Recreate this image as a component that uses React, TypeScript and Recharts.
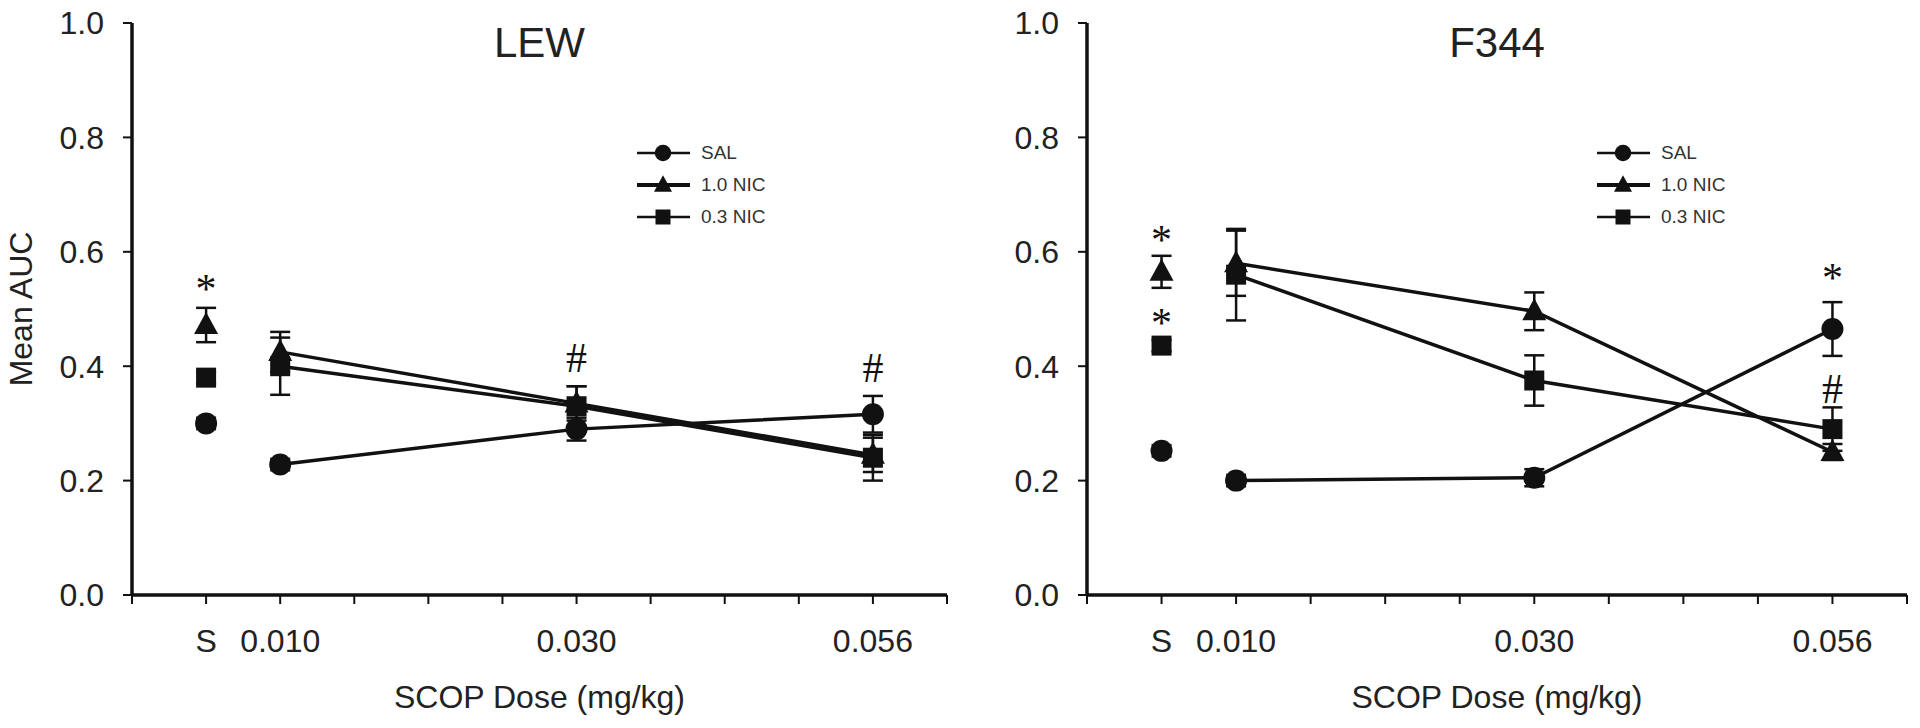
import { LineChart, Line, XAxis, YAxis, ErrorBar, Legend, Scatter, Customized } from "recharts"

// x positions on the dose axis (S = saline pre-test point, then SCOP doses)
const xTicks = [0, 1, 2, 3, 4, 5, 6, 7, 8, 9, 10, 11]
const tickLabels: Record<number, string> = { 1: "S", 2: "0.010", 6: "0.030", 10: "0.056" }
const salineX = 1
const doseX = [2, 6, 10]
const yTicks = [0, 0.2, 0.4, 0.6, 0.8, 1.0]

const seriesNames = ["SAL", "1.0 NIC", "0.3 NIC"]
const seriesKinds = ["circle", "triangle", "square"] as const
const legendStroke = [2.5, 4, 2.5]

// LEW
const lewSalineMean = [0.3, 0.472, 0.38]
const lewSalineErr = [0.01, 0.03, 0.01]
const lewSal = [0.228, 0.29, 0.316]
const lewSalErr = [0.01, 0.02, 0.032]
const lewNic10 = [0.425, 0.335, 0.245]
const lewNic10Err = [0.035, 0.03, 0.03]
const lewNic03 = [0.4, 0.33, 0.24]
const lewNic03Err = [0.05, 0.035, 0.04]
const lewMarks = [
  { x: 1, y: 0.545, text: "*" },
  { x: 6, y: 0.416, text: "#" },
  { x: 10, y: 0.399, text: "#" },
]

// F344
const f344SalineMean = [0.252, 0.565, 0.436]
const f344SalineErr = [0.01, 0.028, 0.01]
const f344Sal = [0.2, 0.205, 0.465]
const f344SalErr = [0.01, 0.015, 0.047]
const f344Nic10 = [0.58, 0.496, 0.25]
const f344Nic10Err = [0.057, 0.033, 0.014]
const f344Nic03 = [0.56, 0.375, 0.29]
const f344Nic03Err = [0.08, 0.044, 0.038]
const f344Marks = [
  { x: 1, y: 0.631, text: "*" },
  { x: 1, y: 0.486, text: "*" },
  { x: 10, y: 0.565, text: "*" },
  { x: 10, y: 0.362, text: "#" },
]

const INK = "#111"
const FONT = "'Liberation Sans', Arial, sans-serif"

type Kind = (typeof seriesKinds)[number]

function Marker({ cx, cy, kind, s = 1 }: { cx?: number; cy?: number; kind: Kind; s?: number }) {
  if (cx == null || cy == null) return null
  if (kind === "circle") return <circle cx={cx} cy={cy} r={11 * s} fill={INK} />
  if (kind === "triangle")
    return (
      <polygon
        points={`${cx},${cy - 13 * s} ${cx + 12 * s},${cy + 9 * s} ${cx - 12 * s},${cy + 9 * s}`}
        fill={INK}
      />
    )
  return <rect x={cx - 10 * s} y={cy - 10 * s} width={20 * s} height={20 * s} fill={INK} />
}

function LegendBox() {
  return (
    <div style={{ fontFamily: FONT, fontSize: 19, color: "#333" }}>
      {seriesNames.map((name, i) => (
        <div key={name} style={{ display: "flex", alignItems: "center", height: 32 }}>
          <svg width={54} height={24}>
            <line x1={0} y1={12} x2={53} y2={12} stroke={INK} strokeWidth={legendStroke[i]} />
            <Marker cx={26} cy={12} kind={seriesKinds[i]} s={0.75} />
          </svg>
          <span style={{ marginLeft: 10 }}>{name}</span>
        </div>
      ))}
    </div>
  )
}

interface PanelProps {
  title: string
  salineMean: number[]
  salineErr: number[]
  series: number[][]
  errors: number[][]
  marks: { x: number; y: number; text: string }[]
  yAxisWidth: number
  showYLabel?: boolean
}

function Panel({ title, salineMean, salineErr, series, errors, marks, yAxisWidth, showYLabel }: PanelProps) {
  const plotLeft = yAxisWidth
  const plotRight = 960 - 13
  return (
    <LineChart
      width={960}
      height={728}
      margin={{ top: 23, right: 13, bottom: 0, left: 0 }}
      style={{ fontFamily: FONT }}
    >
      <XAxis
        type="number"
        dataKey="x"
        domain={[0, 11]}
        ticks={xTicks}
        interval={0}
        tickFormatter={(v: number) => tickLabels[v] ?? ""}
        height={133}
        tickSize={9}
        tickMargin={25}
        axisLine={{ stroke: INK, strokeWidth: 3.5 }}
        tickLine={{ stroke: INK, strokeWidth: 2 }}
        tick={{ fill: "#222", fontSize: 32, fontFamily: FONT }}
        label={{
          value: "SCOP Dose (mg/kg)",
          position: "insideBottom",
          offset: 20,
          fill: "#222",
          fontSize: 32,
          fontFamily: FONT,
        }}
      />
      <YAxis
        type="number"
        dataKey="y"
        domain={[0, 1]}
        ticks={yTicks}
        interval={0}
        width={yAxisWidth}
        tickFormatter={(v: number) => v.toFixed(1)}
        tickSize={9}
        tickMargin={19}
        axisLine={{ stroke: INK, strokeWidth: 3.5 }}
        tickLine={{ stroke: INK, strokeWidth: 2 }}
        tick={{ fill: "#222", fontSize: 32, fontFamily: FONT }}
        label={
          showYLabel
            ? {
                value: "Mean AUC",
                angle: -90,
                position: "insideLeft",
                offset: 21,
                fill: "#222",
                fontSize: 32,
                fontFamily: FONT,
                style: { textAnchor: "middle" },
              }
            : undefined
        }
      />
      <Customized
        component={() => (
          <text
            x={(plotLeft + plotRight) / 2}
            y={57}
            textAnchor="middle"
            fontSize={42}
            fontFamily={FONT}
            fill="#222"
          >
            {title}
          </text>
        )}
      />
      {seriesKinds.map((kind, i) => (
        <Line
          key={`dose-${kind}`}
          data={doseX.map((x, j) => ({ x, y: series[i][j], err: errors[i][j] }))}
          dataKey="y"
          stroke={INK}
          strokeWidth={3.5}
          isAnimationActive={false}
          activeDot={false}
          dot={(p: any) => <Marker key={`d-${kind}-${p.index}`} cx={p.cx} cy={p.cy} kind={kind} />}
        >
          <ErrorBar dataKey="err" direction="y" width={10} stroke={INK} strokeWidth={2.5} />
        </Line>
      ))}
      {seriesKinds.map((kind, i) => (
        <Line
          key={`sal-${kind}`}
          data={[{ x: salineX, y: salineMean[i], err: salineErr[i] }]}
          dataKey="y"
          stroke="none"
          isAnimationActive={false}
          activeDot={false}
          dot={(p: any) => <Marker key={`s-${kind}-${p.index}`} cx={p.cx} cy={p.cy} kind={kind} />}
        >
          <ErrorBar dataKey="err" direction="y" width={10} stroke={INK} strokeWidth={2.5} />
        </Line>
      ))}
      <Scatter
        data={marks}
        isAnimationActive={false}
        shape={(p: any) => (
          <text
            x={p.cx}
            y={p.cy + (p.payload.text === "*" ? 20 : 15)}
            textAnchor="middle"
            fontSize={42}
            fontFamily="'Liberation Serif', 'Times New Roman', serif"
            fill={INK}
          >
            {p.payload.text}
          </text>
        )}
      />
      <Legend
        layout="vertical"
        align="center"
        verticalAlign="middle"
        content={() => <LegendBox />}
        wrapperStyle={{ position: "absolute", left: 637, top: 137, width: 220 }}
      />
    </LineChart>
  )
}

export default function App() {
  return (
    <div style={{ position: "absolute", left: 0, top: 0, width: 1920, height: 728, background: "#fff", display: "flex" }}>
      <Panel
        title="LEW"
        salineMean={lewSalineMean}
        salineErr={lewSalineErr}
        series={[lewSal, lewNic10, lewNic03]}
        errors={[lewSalErr, lewNic10Err, lewNic03Err]}
        marks={lewMarks}
        yAxisWidth={132}
        showYLabel
      />
      <Panel
        title="F344"
        salineMean={f344SalineMean}
        salineErr={f344SalineErr}
        series={[f344Sal, f344Nic10, f344Nic03]}
        errors={[f344SalErr, f344Nic10Err, f344Nic03Err]}
        marks={f344Marks}
        yAxisWidth={127}
      />
    </div>
  )
}
